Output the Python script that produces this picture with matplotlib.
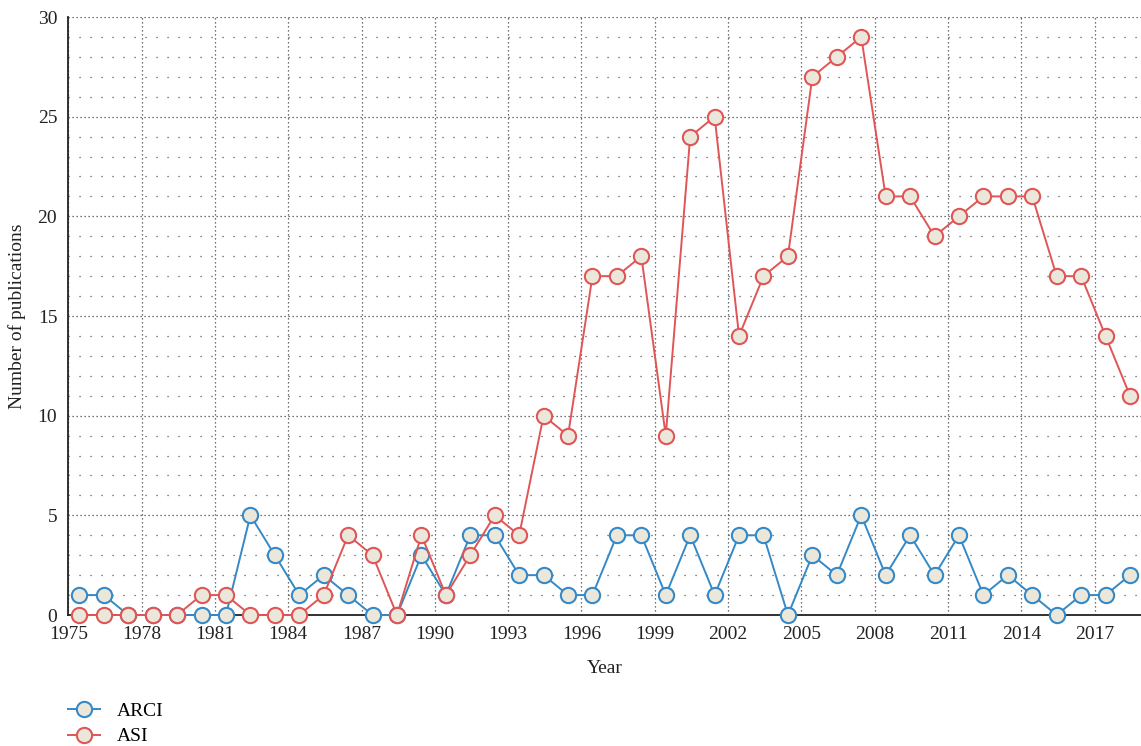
import matplotlib.pyplot as plt
from matplotlib.ticker import FixedLocator, MultipleLocator

plt.rcParams['font.family'] = ['Liberation Serif', 'DejaVu Serif']

# Publications per year
years = list(range(1975, 2019))
arci = [1, 1, 0, 0, 0, 0, 0, 5, 3, 1, 2, 1, 0, 0, 3, 1, 4, 4, 2, 2, 1, 1,
        4, 4, 1, 4, 1, 4, 4, 0, 3, 2, 5, 2, 4, 2, 4, 1, 2, 1, 0, 1, 1, 2]
asi = [0, 0, 0, 0, 0, 1, 1, 0, 0, 0, 1, 4, 3, 0, 4, 1, 3, 5, 4, 10, 9, 17,
       17, 18, 9, 24, 25, 14, 17, 18, 27, 28, 29, 21, 21, 19, 20, 21, 21, 21, 17, 17, 14, 11]
year_ticks = list(range(1975, 2019, 3))

blue = '#3589c7'
red = '#e05555'
face = '#ebe7da'

# points sit mid-year
xs = [y + 0.45 for y in years]

fig = plt.figure(figsize=(11.41, 7.46), dpi=100)
ax = fig.add_axes([0.0599, 0.1756, 0.9401, 0.8016])

ax.plot(xs, arci, color=blue, lw=1.4, marker='o', ms=11, mfc=face, mec=blue,
        mew=1.5, label='ARCI', zorder=3, clip_on=False)
ax.plot(xs, asi, color=red, lw=1.4, marker='o', ms=11, mfc=face, mec=red,
        mew=1.5, label='ASI', zorder=4, clip_on=False)

ax.set_xlim(1975, 2018.9)
ax.set_ylim(0, 30)
ax.xaxis.set_major_locator(FixedLocator(year_ticks))
ax.yaxis.set_major_locator(MultipleLocator(5))
ax.yaxis.set_minor_locator(MultipleLocator(1))

# dense dotted major grid, sparse dots for the minor rows
ax.grid(which='major', color='#444444', linestyle=(0, (1, 2.2)), linewidth=0.9)
ax.grid(which='minor', axis='y', color='#444444', linestyle=(0, (0.9, 7.9)), linewidth=0.9)
ax.set_axisbelow(True)

for s in ['top', 'right']:
    ax.spines[s].set_visible(False)
for s in ['left', 'bottom']:
    ax.spines[s].set_color('#222222')
    ax.spines[s].set_linewidth(1.3)
    ax.spines[s].set_zorder(2)

ax.tick_params(which='both', length=0, labelsize=14, colors='#222222', pad=8)
ax.set_xlabel('Year', fontsize=14, color='#222222', labelpad=12)
ax.set_ylabel('Number of publications', fontsize=14, color='#222222', labelpad=8)

fig.legend(loc='upper left', bbox_to_anchor=(0.044, 0.082),
           frameon=False, fontsize=14, handlelength=1.65, handletextpad=0.85,
           labelspacing=0.4)

fig.savefig('out.png', dpi=100)
